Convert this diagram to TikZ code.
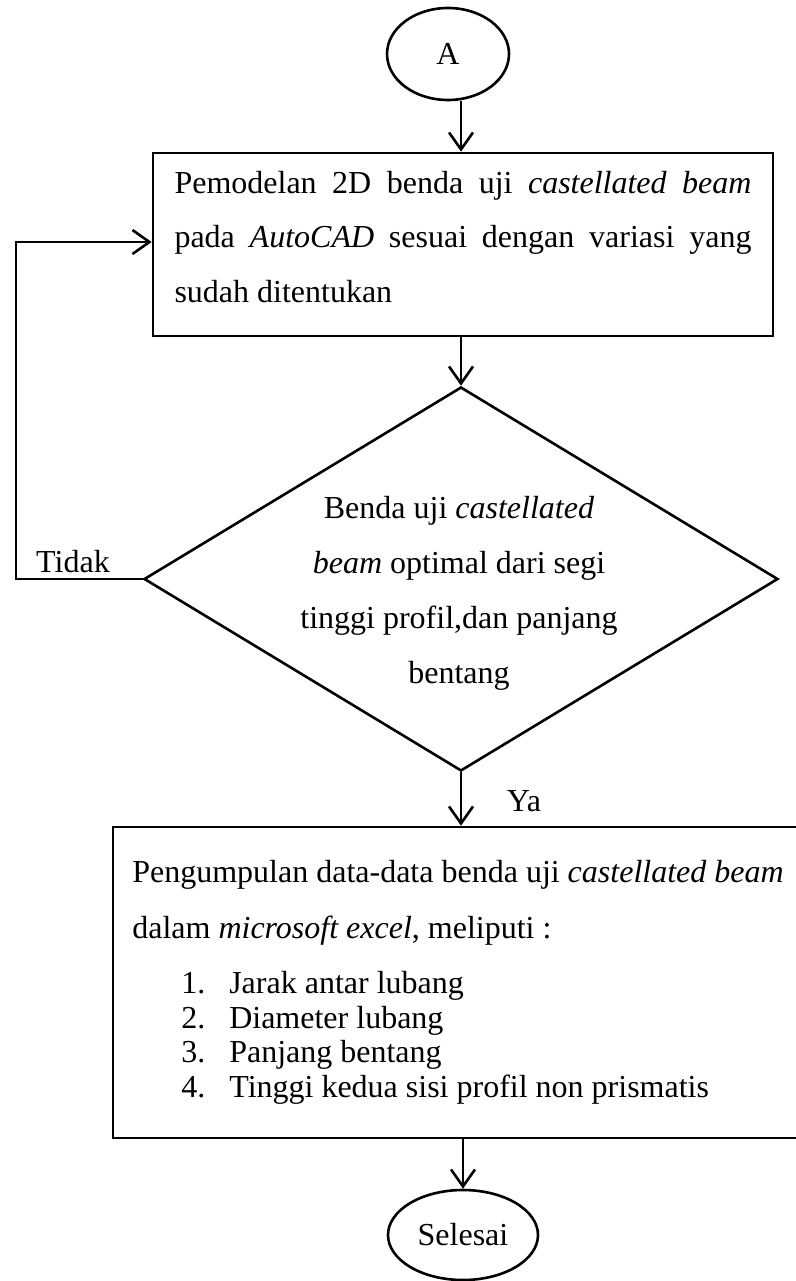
\documentclass[tikz,border=0pt]{standalone}
\usepackage{fontspec}
\setmainfont{Liberation Serif}
\usetikzlibrary{shapes.geometric,arrows.meta}
\begin{document}
\begin{tikzpicture}[x=1pt,y=1pt,
  line width=2.6pt,
  every node/.style={font=\fontsize{32}{55}\selectfont},
  arr/.style={-{Straight Barb[length=17pt,width=24pt]}},
  term/.style={draw,ellipse,inner sep=0pt},
  proc/.style={draw,rectangle,inner sep=0pt},
  cond/.style={draw,diamond,inner sep=0pt},
  plain/.style={inner sep=0pt},
]
\useasboundingbox (0,0) rectangle (795,-1281);

% terminators
\node[term,minimum width=122pt,minimum height=92pt] (start) at (448,-54) {A};
\node[term,minimum width=150pt,minimum height=90pt] (end) at (463,-1235) {Selesai};

% modelling step
\node[proc,minimum width=620pt,minimum height=183pt,align=left,
      font=\fontsize{32}{54.5}\selectfont] (model) at (463,-244.5)
  {\makebox[577pt][s]{Pemodelan 2D benda uji \textit{castellated beam}}\\
   \makebox[577pt][s]{pada \textit{AutoCAD} sesuai dengan variasi yang}\\
   \makebox[577pt][l]{sudah ditentukan}\rule[-16pt]{0pt}{16pt}};

% decision
\node[cond,minimum width=634pt,minimum height=384pt] (dec) at (461,-579) {};
\node[plain,align=center] (dectext) at (459,-593)
  {Benda uji \textit{castellated}\\
   \textit{beam} optimal dari segi\\
   tinggi profil,dan panjang\\
   bentang};

% data collection step
\node[proc,minimum width=690pt,minimum height=311pt,align=left,
      font=\fontsize{32}{34.5}\selectfont] (collect) at (458,-982.5)
  {Pengumpulan data-data benda uji \textit{castellated beam}\\[21pt]
   dalam \textit{microsoft excel}, meliputi :\\[21pt]
   \hspace*{49pt}\makebox[48pt][l]{1.}Jarak antar lubang\\
   \hspace*{49pt}\makebox[48pt][l]{2.}Diameter lubang\\
   \hspace*{49pt}\makebox[48pt][l]{3.}Panjang bentang\\
   \hspace*{49pt}\makebox[48pt][l]{4.}Tinggi kedua sisi profil non prismatis};

% branch labels
\node[plain] (no) at (73,-562) {Tidak};
\node[plain] (yes) at (524,-801) {Ya};

% connectors
\coordinate (loop) at (16,-242);
\draw[arr] (start.south -| dec.north) -- (model.north -| dec.north);
\draw[arr] (model.south -| dec.north) -- (dec.north);
\draw[arr] (dec.south) -- (collect.north -| dec.south);
\draw[arr] (collect.south -| end.north) -- (end.north);
\draw[arr] (dec.west) -| (loop) -- (loop -| model.west);
\end{tikzpicture}
\end{document}
